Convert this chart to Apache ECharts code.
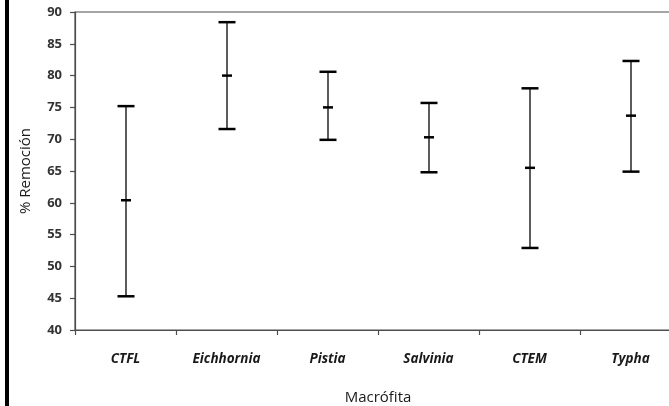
<!DOCTYPE html>
<html>
<head>
<meta charset="utf-8">
<script src="https://cdn.jsdelivr.net/npm/echarts@6/dist/echarts.min.js"></script>
<style>
html,body{margin:0;padding:0;background:#fff;overflow:hidden;width:669px;height:406px;}
#chart{position:absolute;left:0;top:0;width:720px;height:406px;}
#bar{position:absolute;left:5px;top:0;width:4px;height:406px;background:#000;}
</style>
</head>
<body>
<div id="chart"></div>
<div id="bar"></div>
<script>
const categories = ['CTFL', 'Eichhornia', 'Pistia', 'Salvinia', 'CTEM', 'Typha'];
const lowValues  = [45.3, 71.6, 69.9, 64.8, 52.9, 64.9];
const meanValues = [60.4, 80.0, 75.0, 70.3, 65.5, 73.7];
const highValues = [75.2, 88.4, 80.6, 75.7, 78.0, 82.3];
const yTicks = [40, 45, 50, 55, 60, 65, 70, 75, 80, 85, 90];

const fontFam = '"Open Sans", Lato, sans-serif';
const chart = echarts.init(document.getElementById('chart'), null, {renderer: 'canvas'});

const data = categories.map((c, i) => [i, lowValues[i], meanValues[i], highValues[i]]);

chart.setOption({
  animation: false,
  backgroundColor: '#fff',
  grid: {left: 75, top: 12, width: 606, height: 318, outerBoundsMode: 'none', containLabel: false, show: true, borderColor: '#4d4d4d', borderWidth: 1.2, backgroundColor: 'transparent'},
  xAxis: {
    type: 'category',
    data: categories,
    boundaryGap: true,
    name: 'Macrófita',
    nameLocation: 'middle',
    nameGap: 60,
    nameTextStyle: {fontFamily: fontFam, fontSize: 15, color: '#1a1a1a'},
    axisLine: {lineStyle: {color: '#4d4d4d', width: 1.2}},
    axisTick: {show: true, length: 5, alignWithLabel: false, lineStyle: {color: '#4d4d4d', width: 1.2}},
    axisLabel: {fontFamily: fontFam, fontSize: 13.5, fontWeight: 'bold', fontStyle: 'italic', color: '#1a1a1a', margin: 22},
    splitLine: {show: false}
  },
  yAxis: {
    type: 'value',
    min: yTicks[0],
    max: yTicks[yTicks.length - 1],
    interval: 5,
    name: '% Remoción',
    nameLocation: 'middle',
    nameGap: 42,
    nameRotate: 90,
    nameTextStyle: {fontFamily: fontFam, fontSize: 15, color: '#1a1a1a'},
    axisLine: {show: true, lineStyle: {color: '#4d4d4d', width: 1.2}},
    axisTick: {show: true, length: 5, lineStyle: {color: '#4d4d4d', width: 1.2}},
    axisLabel: {fontFamily: fontFam, fontSize: 13, fontWeight: 'bold', color: '#333', margin: 13},
    splitLine: {show: false}
  },
  series: [{
    type: 'custom',
    data: data,
    renderItem: function (params, api) {
      const x = api.value(0);
      const pLow = api.coord([x, api.value(1)]);
      const pMid = api.coord([x, api.value(2)]);
      const pHigh = api.coord([x, api.value(3)]);
      const cx = Math.round(pMid[0]);
      const capHalf = 8.5;
      const midHalf = 5;
      const capStyle = {stroke: '#000', lineWidth: 2.5};
      return {
        type: 'group',
        children: [
          {type: 'line', shape: {x1: cx, y1: pHigh[1], x2: cx, y2: pLow[1]}, style: {stroke: '#333', lineWidth: 1.6}},
          {type: 'line', shape: {x1: cx - capHalf, y1: pHigh[1], x2: cx + capHalf, y2: pHigh[1]}, style: capStyle},
          {type: 'line', shape: {x1: cx - capHalf, y1: pLow[1], x2: cx + capHalf, y2: pLow[1]}, style: capStyle},
          {type: 'line', shape: {x1: cx - midHalf, y1: pMid[1], x2: cx + midHalf, y2: pMid[1]}, style: capStyle}
        ]
      };
    }
  }]
});
</script>
</body>
</html>
